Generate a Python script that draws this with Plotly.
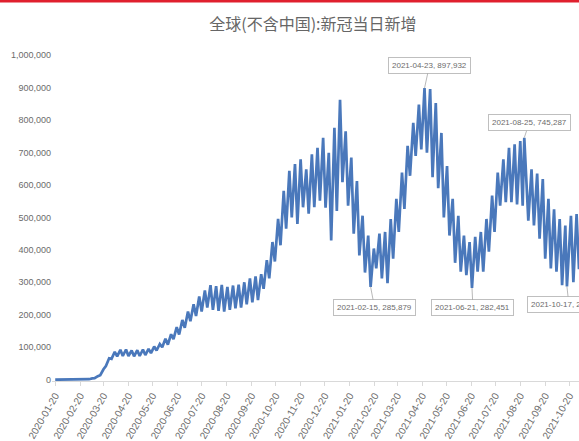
import pandas as pd
import plotly.graph_objects as go

# Weekly turning points of daily new cases (world excluding China).
# Each week starts on a Monday: the weekly low falls on the Monday,
# the weekly high on the Friday.
first_monday = "2020-01-20"
weekly_low = [
    1, 5, 10, 10, 30, 200, 1500, 4500, 14000, 42000,
    64000, 72000, 73000, 73000, 72000, 73000, 76000, 82000, 90000, 100000,
    108000, 125000, 139000, 160000, 180000, 196000, 210000, 222000, 215000, 212000,
    210000, 215000, 220000, 222000, 232000, 238000, 245000, 280000, 312000, 364000,
    414000, 465000, 500000, 480000, 531000, 511000, 531000, 551000, 530000, 429000,
    520000, 608000, 536000, 450000, 383000, 330000, 285879, 343000, 312000, 297000,
    373000, 455000, 526000, 628000, 689000, 709000, 699000, 624000, 590000, 500000,
    444000, 360000, 333000, 322000, 282451, 333000, 333000, 394000, 455000, 536000,
    547000, 547000, 540000, 536000, 490000, 475000, 434000, 373000, 343000, 333000,
    291000, 286921, 300000, 340000, 350000,
]
weekly_high = [
    20, 30, 30, 40, 100, 1200, 4000, 11000, 32000, 66000,
    86000, 92000, 93000, 90000, 91000, 93000, 95000, 102000, 110000, 126000,
    140000, 162000, 184000, 210000, 232000, 256000, 275000, 291000, 288000, 292000,
    286000, 290000, 293000, 300000, 312000, 318000, 325000, 368000, 424000, 495000,
    582000, 643000, 664000, 679000, 648000, 694000, 714000, 745000, 699000, 776000,
    862000, 765000, 684000, 612000, 505000, 444000, 404000, 450000, 455000, 495000,
    557000, 638000, 720000, 791000, 847000, 897932, 895000, 852000, 760000, 658000,
    557000, 505000, 444000, 424000, 440000, 455000, 495000, 567000, 638000, 679000,
    714000, 725000, 735000, 745287, 648000, 635000, 618000, 557000, 525000, 495000,
    475000, 505000, 510000, 510000, 520000,
]

# Labelled extremes
callout_dates = ["2021-02-15", "2021-04-23", "2021-06-21", "2021-08-25", "2021-10-17"]
callout_values = [285879, 897932, 282451, 745287, 286921]
callout_kind = ["low", "high", "low", "high", "low"]

# Monthly tick labels (the 20th of each month)
tick_dates = pd.date_range("2020-01-01", "2021-11-01", freq="MS") + pd.Timedelta(days=19)
y_ticks = list(range(0, 1000001, 100000))

# Assemble the zig-zag series
mondays = pd.date_range(first_monday, periods=len(weekly_low), freq="7D")
points = []
for d, lo, hi in zip(mondays, weekly_low, weekly_high):
    points.append([d, lo, "low"])
    points.append([d + pd.Timedelta(days=4), hi, "high"])
for ds, v, kind in zip(callout_dates, callout_values, callout_kind):
    d = pd.Timestamp(ds)
    idx = min((i for i, p in enumerate(points) if p[2] == kind),
              key=lambda i: abs(points[i][0] - d))
    points[idx] = [d, v, kind]
points.sort(key=lambda p: p[0])
x_vals = [p[0] for p in points]
y_vals = [p[1] for p in points]

LINE = "#4a78bb"
GREY = "#6b6b6b"
FONT = "Liberation Sans, Arial, sans-serif"

fig = go.Figure()
fig.add_trace(go.Scatter(
    x=x_vals, y=y_vals, mode="lines",
    line=dict(color=LINE, width=2.7),
    hoverinfo="skip", showlegend=False,
))

# Callout boxes: (offset x, offset y) in pixels from the point to the box centre
offsets = [(4, 21), (5, -23), (1, 20), (5, -15), (2, 18)]
for ds, v, (ax, ay) in zip(callout_dates, callout_values, offsets):
    fig.add_annotation(
        x=ds, y=v, xref="x", yref="y",
        text=f"{ds}, {v:,}",
        showarrow=True, arrowhead=0, arrowwidth=0.8, arrowcolor="#a6a6a6",
        ax=ax, ay=ay, standoff=0,
        bgcolor="white", bordercolor="#bfbfbf", borderwidth=1, borderpad=3,
        font=dict(family=FONT, size=8, color=GREY),
    )

# Red rule across the top edge
fig.add_shape(type="line", xref="paper", yref="paper",
              x0=-0.2, x1=1.05, y0=1.165, y1=1.165,
              line=dict(color="#e0202e", width=2.5))

fig.update_layout(
    width=579, height=441,
    margin=dict(l=52, r=0, t=55, b=57),
    paper_bgcolor="white", plot_bgcolor="white",
    font=dict(family=FONT, color=GREY),
    title=dict(
        text="全球(不含中国):新冠当日新增",
        x=0.495, xref="paper", xanchor="center",
        y=1 - 24 / 441, yref="container", yanchor="middle",
        font=dict(family="Noto Sans CJK SC", size=16, color="#666666"),
    ),
    xaxis=dict(
        range=["2020-01-16", "2021-11-01"],
        tickmode="array", tickvals=list(tick_dates),
        ticktext=[d.strftime("%Y-%m-%d") for d in tick_dates],
        tickangle=-60, tickfont=dict(family=FONT, size=10, color=GREY),
        showgrid=False, zeroline=False,
        showline=True, linecolor="#d9d9d9", linewidth=1,
        ticks="outside", ticklen=4, tickcolor="#d9d9d9",
    ),
    yaxis=dict(
        range=[-4000, 1000000],
        tickmode="array", tickvals=y_ticks,
        ticktext=[f"{v:,}" for v in y_ticks],
        tickfont=dict(family=FONT, size=9, color=GREY),
        showgrid=False, zeroline=False, showline=False, ticks="",
    ),
)

fig.write_html("out.html")
